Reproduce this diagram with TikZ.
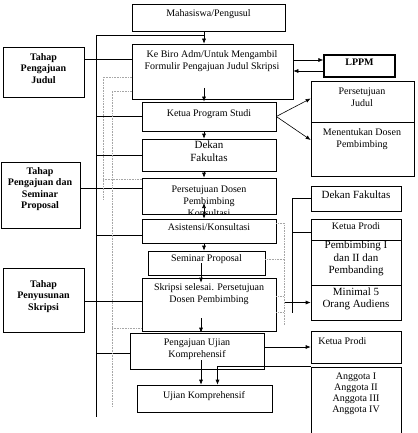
\documentclass[tikz,border=0pt]{standalone}
\usepackage{fontspec}
\setmainfont{Liberation Serif}
\usetikzlibrary{fit,arrows.meta,positioning}

\tikzset{
  kotak/.style={draw, inner sep=0pt, align=center, font=\fontsize{10}{12}\selectfont},
  tahap/.style={kotak, font=\bfseries\fontsize{10}{11.5}\selectfont},
  besar/.style={font=\fontsize{11}{12.5}\selectfont},
  teks/.style={inner sep=0pt, align=center, font=\fontsize{10}{12}\selectfont},
  panah/.style={-{Latex[length=5pt,width=4pt]}},
  duapanah/.style={{Latex[length=5pt,width=4pt]}-{Latex[length=5pt,width=4pt]}},
  titik/.style={gray!70, densely dotted},
}

\begin{document}
\begin{tikzpicture}[x=1pt, y=-1pt, line width=0.6pt]
  \clip (0,0) rectangle (417,433);

  %TAHAP
  \node[tahap, fit={(3,47) (84,97)}] (tjudul) {Tahap\\Pengajuan\\Judul};
  \node[tahap, fit={(1,162) (80,228)}] (tsem) {};
  \node[teks, font=\bfseries\fontsize{10}{11.5}\selectfont] (tsemtxt) at (40,189) {Tahap\\Pengajuan dan\\Seminar\\Proposal};
  \node[tahap, fit={(3,268) (84,332)}] (tsus) {Tahap\\Penyusunan\\Skripsi};

  %ALUR UTAMA
  \coordinate (aliran) at (204,0);
  \coordinate (aliranb) at (201,0);
  \node[kotak, fit={(132,4) (285,31)}] (mhs) {Mahasiswa/Pengusul};
  \node[kotak, fit={(132,44) (293,99)}] (biro) {};
  \node[teks] (birotxt) at (212,61) {Ke Biro Adm/Untuk Mengambil\\Formulir Pengajuan Judul Skripsi};
  \node[kotak, fit={(142,102) (276,131)}] (ketua) {};
  \node[teks] (ketuatxt) at (209,114) {Ketua Program Studi};
  \node[kotak, besar, fit={(142,139) (276,171)}] (dekan) {Dekan\\Fakultas};
  \node[kotak, fit={(142,178) (276,214)}] (setuju) {};
  \begin{scope}
    \clip (setuju.north west) rectangle (setuju.south east);
    \node[teks] (setujutxt) at (209,201) {Persetujuan Dosen\\Pembimbing\\Konsultasi};
  \end{scope}
  \node[kotak, fit={(142,219) (276,243)}] (asist) {Asistensi/Konsultasi};
  \node[kotak, fit={(148,251) (265,275)}] (seminar) {Seminar Proposal};
  \node[kotak, fit={(142,278) (276,331)}] (skripsi) {};
  \node[teks] (skripsitxt) at (209,294) {Skripsi selesai. Persetujuan\\Dosen Pembimbing};
  \node[kotak, fit={(130,333) (264,369)}] (pengaj) {};
  \node[teks] (pengajtxt) at (197,349) {Pengajuan Ujian\\Komprehensif};
  \node[kotak, fit={(137,385) (272,412)}] (ujian) {};
  \node[teks] (ujiantxt) at (204,396) {Ujian Komprehensif};

  %KANAN
  \node[kotak, line width=1.2pt, font=\bfseries\fontsize{10}{12}\selectfont, fit={(324,55) (395,77)}] (lppm) {LPPM};
  \node[kotak, fit={(311,81) (414,122)}] (pjudul) {};
  \node[teks] (pjudultxt) at (362,97) {Persetujuan\\Judul};
  \node[kotak, fit={(311,122) (414,176)}] (pdosen) {};
  \node[teks] (pdosentxt) at (362,139) {Menentukan Dosen\\Pembimbing};
  \node[kotak, besar, fit={(311,186) (401,211)}] (dekanr) {Dekan Fakultas};
  \node[kotak, fit={(311,219) (401,240)}] (kprodi) {Ketua Prodi};
  \node[kotak, besar, fit={(311,240) (401,285)}] (pemb) {Pembimbing I\\dan II dan\\Pembanding};
  \node[kotak, besar, fit={(311,285) (401,320)}] (minimal) {Minimal 5\\Orang Audiens};
  \node[kotak, fit={(311,331) (401,363)}] (kprodib) {};
  \node[teks, anchor=west] (kprodibtxt) at (318,341) {Ketua Prodi};
  \node[kotak, fit={(311,367) (401,440)}] (anggota) {};
  \node[teks, font=\fontsize{10}{11}\selectfont] (anggotatxt) at (356,394) {Anggota I\\Anggota II\\Anggota III\\Anggota IV};

  %GARIS KIRI
  \coordinate (busatas) at (96,35);
  \coordinate (busbawah) at (96,417);
  \draw (busatas) -- (busbawah);
  \draw (busatas) -- (busatas -| aliran);
  \draw (tjudul.east |- 0,59) -- (biro.west |- 0,59);
  \draw (busatas |- ketua.west) -- (ketua.west);
  \draw (busatas |- dekan.west) -- (dekan.west);
  \draw (tsem.east |- 0,188) -- (setuju.west |- 0,188);
  \draw (busatas |- 0,235) -- (asist.west |- 0,235);
  \draw (tsus.east |- 0,301) -- (skripsi.west |- 0,301);
  \draw (busatas |- 0,353) -- (pengaj.west |- 0,353);

  %PANAH UTAMA
  \draw[panah] (mhs.south -| aliran) -- (biro.north -| aliran);
  \draw[panah] (aliran |- 0,88) -- (ketua.north -| aliran);
  \draw[panah] (ketua.south -| aliran) -- (dekan.north -| aliran);
  \draw[panah] (dekan.south -| aliran) -- (setuju.north -| aliran);
  \draw[duapanah] (aliran |- 0,203) -- (asist.north -| aliran);
  \draw[panah] (asist.south -| aliran) -- (seminar.north -| aliran);
  \draw[panah] (seminar.center -| aliranb) -- ([yshift=-5pt]skripsi.north -| aliranb);
  \draw[panah] (aliranb |- 0,318) -- (pengaj.north -| aliranb);
  \draw[panah] (aliranb |- 0,360) -- (ujian.north -| aliranb);
  \draw[panah] (anggota.north west) -| ([xshift=13pt]ujian.north);

  %PANAH KANAN
  \draw[panah] ([yshift=6pt]lppm.west -| biro.east) -- ([yshift=6pt]lppm.west);
  \draw[panah] ([yshift=-5pt]lppm.west) -- ([yshift=-5pt]lppm.west -| biro.east);
  \draw[panah] (ketua.east) -- ([yshift=3pt]pjudul.west);
  \draw[panah] (ketua.east) -- ([yshift=9pt]pdosen.west);
  \draw[panah] (pengaj.east |- kprodib.west) -- (kprodib.west);

  %KURUNG
  \coordinate (kurung) at (292,313);
  \coordinate (titikx) at (284,0);
  \draw (kurung |- dekanr.west) -- (kurung);
  \draw (kurung |- dekanr.west) -- (dekanr.west);
  \draw (kurung |- 0,232) -- (kprodi.west |- 0,232);
  \draw[panah] (titikx |- minimal.west) -- (minimal.west);

  %GARIS TITIK
  \draw[titik] (biro.west |- 0,77) -| (103,200);
  \draw[titik] (103,179) -- (setuju.west |- 0,179);
  \draw[titik] (biro.west |- 0,91) -| (112,407);
  \draw[titik] (112,328) -- (skripsi.west |- 0,328);
  \draw[titik] ([yshift=8pt]asist.east) -| (titikx |- 0,325);
  \draw[titik] (seminar.east |- 0,259) -- (titikx |- 0,259);
  \draw[titik] (skripsi.east |- 0,296) -- (titikx |- 0,296);
  \draw[titik] (skripsi.east |- 0,312) -- (titikx |- 0,312);
\end{tikzpicture}
\end{document}
